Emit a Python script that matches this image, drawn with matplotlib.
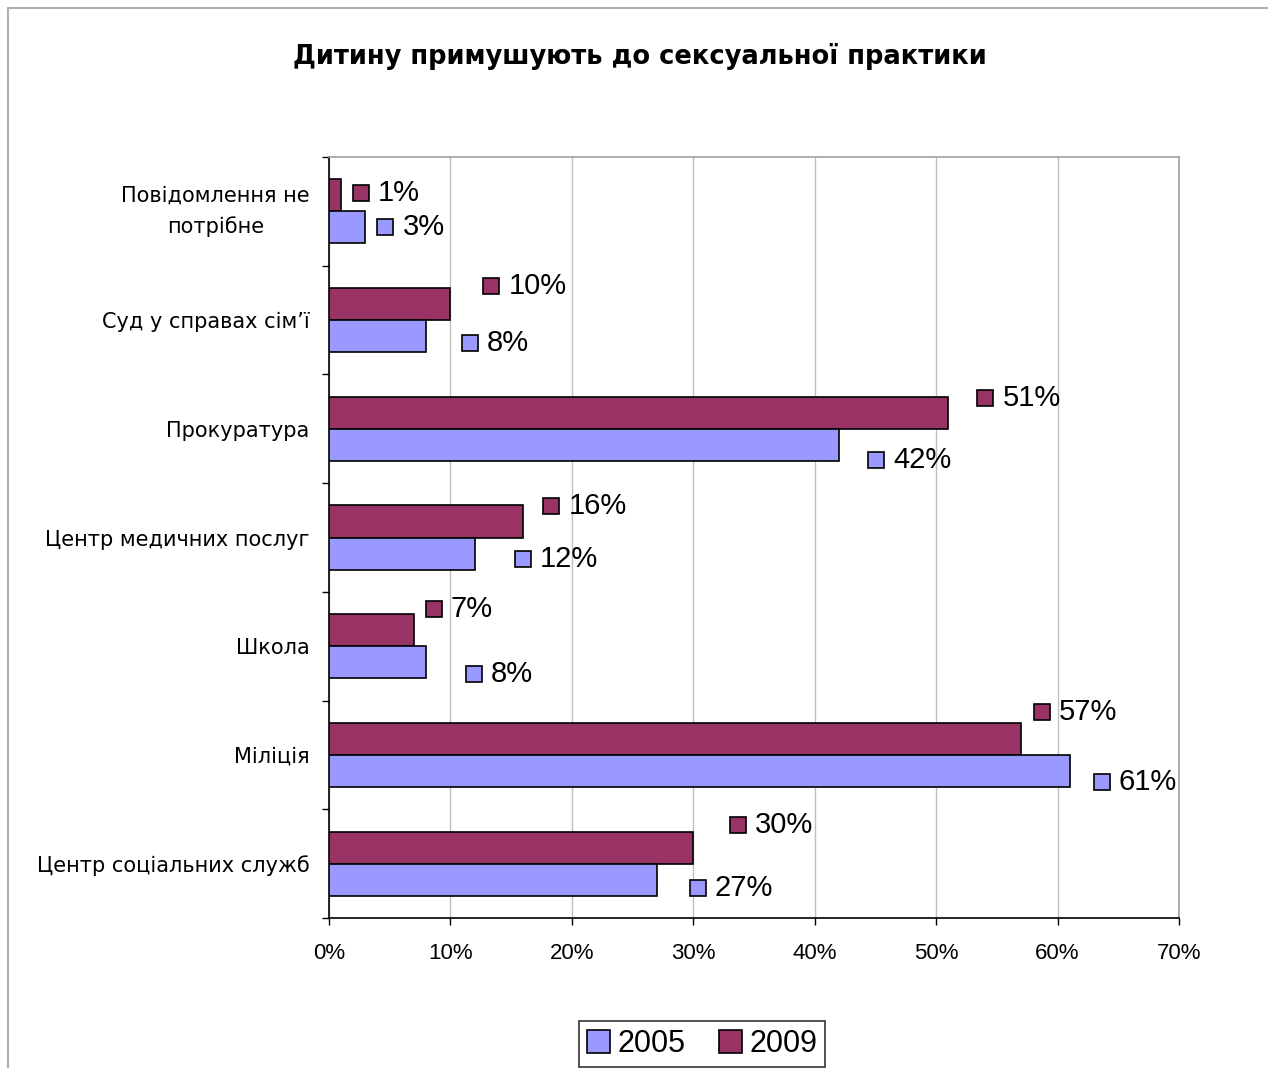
import matplotlib
matplotlib.use("Agg")
import matplotlib.pyplot as plt
import matplotlib.transforms as mtransforms
from matplotlib.patches import Rectangle
import numpy as np

plt.rcParams['font.family'] = ['Liberation Sans', 'DejaVu Sans']

# дані
kategorii = ['Повідомлення не\nпотрібне', 'Суд у справах сім’ї', 'Прокуратура',
             'Центр медичних послуг', 'Школа', 'Міліція', 'Центр соціальних служб']
roky = ['2005', '2009']
znach_2005 = [3, 8, 42, 12, 8, 61, 27]
znach_2009 = [1, 10, 51, 16, 7, 57, 30]

kolir_2005 = '#9999FF'
kolir_2009 = '#993366'

# зсуви підписів від кінця стовпчика (пікселі: вправо, вниз)
zsuv_2009 = [(20, -2), (41, -18), (37, -15), (28, -15), (20, -21), (21, -27), (45, -23)]
zsuv_2005 = [(20, 0), (44, 7), (37, 15), (48, 5), (48, 12), (32, 11), (41, 8)]

fig = plt.figure(figsize=(12.68, 10.68), dpi=100)
ax = fig.add_axes([329 / 1268, 1 - 918 / 1068, 850 / 1268, 761 / 1068])

n = len(kategorii)
y = np.arange(n)[::-1].astype(float)
h = 0.295

ax.barh(y + h / 2, znach_2009, height=h, color=kolir_2009, edgecolor='black',
        linewidth=1.2, label=roky[1], zorder=3)
ax.barh(y - h / 2, znach_2005, height=h, color=kolir_2005, edgecolor='black',
        linewidth=1.2, label=roky[0], zorder=3)


def pidpys(x, yy, dx, dy, kolir):
    tr = mtransforms.offset_copy(ax.transData, fig=fig, x=dx, y=-dy, units='dots')
    ax.plot([x], [yy], marker='s', markersize=12, color=kolir,
            markeredgecolor='black', markeredgewidth=1.2, transform=tr,
            clip_on=False, zorder=5)
    tr2 = mtransforms.offset_copy(ax.transData, fig=fig, x=dx + 17, y=-dy, units='dots')
    ax.text(x, yy, f'{x}%', transform=tr2, fontsize=21, va='center', ha='left',
            clip_on=False, zorder=5)


for i in range(n):
    pidpys(znach_2009[i], y[i] + h / 2, *zsuv_2009[i], kolir_2009)
    pidpys(znach_2005[i], y[i] - h / 2, *zsuv_2005[i], kolir_2005)

ax.set_xlim(0, 70)
ax.set_ylim(-0.5, n - 0.5)
ax.set_xticks(np.arange(0, 71, 10))
ax.set_xticklabels([f'{v}%' for v in range(0, 71, 10)], fontsize=16)
ax.set_yticks(np.arange(-0.5, n, 1.0))
ax.set_yticklabels([])
ax.set_yticks(y, minor=True)
ax.set_yticklabels(kategorii, minor=True, fontsize=15, multialignment='center',
                   linespacing=1.6, family=['DejaVu Sans'])
for lbl in ax.get_yticklabels(minor=True):
    if '\n' in lbl.get_text():
        lbl.set_va('center')
ax.tick_params(axis='y', which='minor', length=0, pad=14)
ax.tick_params(axis='y', which='major', length=5, direction='out', width=1)
ax.tick_params(axis='x', length=5, direction='out', width=1, pad=13)

ax.grid(axis='x', color='#c0c0c0', linewidth=1, zorder=0)
for s in ['top', 'right']:
    ax.spines[s].set_color('#a0a0a0')
    ax.spines[s].set_linewidth(1.2)
for s in ['left', 'bottom']:
    ax.spines[s].set_color('black')
    ax.spines[s].set_linewidth(1.2)

fig.text(640 / 1268, 1 - 57 / 1068, 'Дитину примушують до сексуальної практики',
         ha='center', va='center', fontsize=18.5, fontweight='bold',
         family=['DejaVu Sans'])

handles, labels = ax.get_legend_handles_labels()
leg = fig.legend(handles[::-1], labels[::-1], loc='center',
                 bbox_to_anchor=(702 / 1268, 1 - 1044 / 1068), ncol=2,
                 fontsize=22, frameon=True, fancybox=False, edgecolor='black',
                 handlelength=0.75, handleheight=0.75, handletextpad=0.25,
                 columnspacing=1.1, borderpad=0.25)
leg.get_frame().set_linewidth(1.2)

# рамка області діаграми
fig.patches.append(Rectangle((8 / 1268, -0.1), 1.2, 1 - 8 / 1068 + 0.1,
                             transform=fig.transFigure, fill=False,
                             edgecolor='#b0b0b0', linewidth=1.5, zorder=0))

fig.savefig('out.png', dpi=100)
